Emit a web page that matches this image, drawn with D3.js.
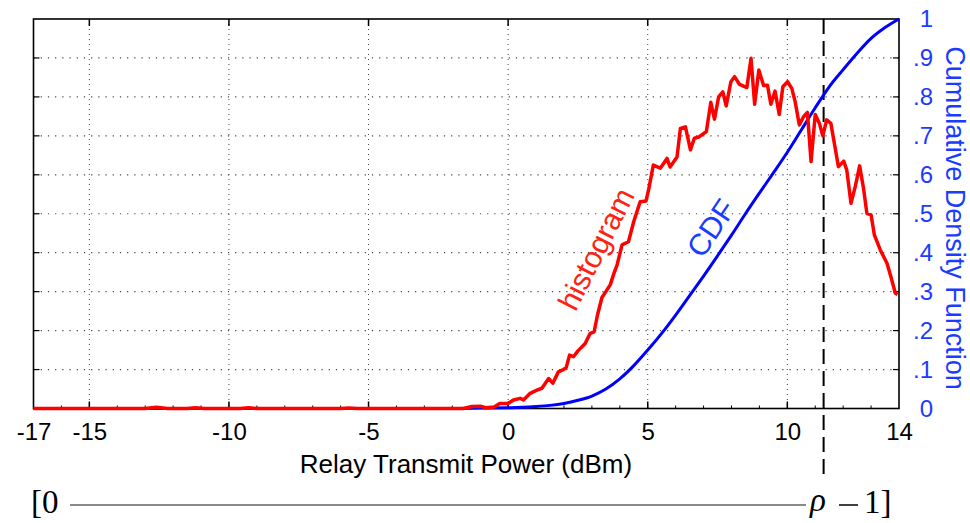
<!DOCTYPE html>
<html><head><meta charset="utf-8">
<script src="https://cdn.jsdelivr.net/npm/d3@7"></script>
<style>
html,body{margin:0;padding:0;background:#fff;}
svg{display:block;}
</style>
</head><body>
<svg id="chart" width="970" height="523"></svg>
<script>
// ---- data ----
const histX = [-17,-13.0,-12.6,-12.2,-11.5,-11.2,-10.9,-9.6,-9.3,-9.0,-6,-5.7,-5.4,-3,-1.6,-1.3,-1.0,-0.8,-0.5,-0.3,0.0,0.19,0.43,0.55,0.79,1.03,1.21,1.45,1.6,1.8,1.98,2.08,2.2,2.34,2.5,2.76,2.94,3.08,3.2,3.36,3.5,3.66,3.78,3.9,4.08,4.31,4.5,4.73,4.94,5.03,5.2,5.45,5.69,5.8,6.05,6.17,6.35,6.53,6.67,6.83,7.1,7.26,7.39,7.54,7.69,7.81,7.98,8.11,8.29,8.55,8.70,8.83,8.98,9.15,9.29,9.41,9.56,9.71,9.84,10.01,10.16,10.28,10.43,10.58,10.72,10.85,11.0,11.15,11.27,11.41,11.56,11.83,12.02,12.13,12.28,12.43,12.59,12.73,12.85,13.0,13.12,13.33,13.57,13.71,13.87,13.95];
const histY = [0,0,0.003,0,0,0.002,0,0,0.002,0,0,0.001,0,0,0,0.005,0.006,0.002,0.004,0.013,0.013,0.022,0.026,0.022,0.039,0.047,0.052,0.077,0.065,0.094,0.1,0.105,0.137,0.133,0.148,0.167,0.193,0.197,0.24,0.285,0.3,0.318,0.345,0.368,0.42,0.428,0.48,0.531,0.533,0.561,0.625,0.617,0.642,0.62,0.646,0.719,0.723,0.664,0.694,0.697,0.711,0.786,0.743,0.80,0.813,0.777,0.839,0.852,0.832,0.824,0.899,0.781,0.869,0.829,0.83,0.781,0.815,0.755,0.826,0.839,0.822,0.788,0.728,0.749,0.760,0.634,0.755,0.732,0.700,0.741,0.732,0.621,0.635,0.612,0.527,0.569,0.623,0.565,0.501,0.497,0.445,0.407,0.373,0.338,0.296,0.293];
const cdfX = [-17,-3,-2,-1,0,0.5,1,1.5,2,2.5,3,3.5,4,4.5,5,5.5,6,6.5,7,7.5,8,8.5,9,9.5,10,10.5,11,11.5,12,12.5,13,13.5,14];
const cdfY = [0,0,0,0.001,0.002,0.003,0.005,0.008,0.013,0.021,0.032,0.05,0.076,0.11,0.15,0.193,0.24,0.29,0.34,0.392,0.445,0.5,0.553,0.605,0.658,0.715,0.772,0.826,0.87,0.912,0.95,0.978,1.0];
const xTickVals = [-17,-15,-10,-5,0,5,10,14];
const xTickLabels = ["-17","-15","-10","-5","0","5","10","14"];
const xGridVals = [-15,-10,-5,0,5,10];
const yTickVals = [0,0.1,0.2,0.3,0.4,0.5,0.6,0.7,0.8,0.9,1];
const yTickLabels = ["0",".1",".2",".3",".4",".5",".6",".7",".8",".9","1"];
const rhoValue = 11.3;   // position of dashed marker (dBm)
const xLabel = "Relay Transmit Power (dBm)";
const yLabel = "Cumulative Density Function";

// ---- layout ----
const svg = d3.select("#chart");
const L = 33.5, R = 899, T = 19, B = 408.5;
const x = d3.scaleLinear().domain([-17,14]).range([L,R]);
const y = d3.scaleLinear().domain([0,1]).range([B,T]);
const sans = "'Liberation Sans', Arial, Helvetica, sans-serif";
const blueText = "#1a3cff";

// grid
const g = svg.append("g");
g.selectAll("line.vg").data(xGridVals).join("line")
  .attr("x1", d=>x(d)).attr("x2", d=>x(d)).attr("y1", T).attr("y2", B)
  .attr("stroke", "#444").attr("stroke-width", 1).attr("stroke-dasharray", "1,4");
g.selectAll("line.hg").data(yTickVals.slice(1,-1)).join("line")
  .attr("x1", L).attr("x2", R).attr("y1", d=>y(d)).attr("y2", d=>y(d))
  .attr("stroke", "#444").attr("stroke-width", 1.2).attr("stroke-dasharray", "1.2,6");

// bottom axis with minor ticks
const xAxis = d3.axisBottom(x).tickValues(xTickVals).tickFormat((d,i)=>xTickLabels[i]).tickSize(0).tickPadding(14);
const ax = svg.append("g").attr("transform", `translate(0,${B})`).call(xAxis);
ax.select(".domain").remove();
ax.selectAll("text").attr("font-family", sans).attr("font-size", 24).attr("fill", "#000");
const minor = d3.range(-16, 14, 1);
svg.append("g").selectAll("line").data(minor).join("line")
  .attr("x1", d=>x(d)).attr("x2", d=>x(d)).attr("y1", B).attr("y2", B-3)
  .attr("stroke", "#000").attr("stroke-width", 1);
svg.append("g").selectAll("line").data(xGridVals).join("line")
  .attr("x1", d=>x(d)).attr("x2", d=>x(d)).attr("y1", B).attr("y2", B-7)
  .attr("stroke", "#000").attr("stroke-width", 1.5);
svg.append("g").selectAll("line").data(xGridVals).join("line")
  .attr("x1", d=>x(d)).attr("x2", d=>x(d)).attr("y1", T).attr("y2", T+7)
  .attr("stroke", "#000").attr("stroke-width", 1.5);

// right axis
const yAxis = d3.axisRight(y).tickValues(yTickVals).tickFormat((d,i)=>yTickLabels[i]).tickSize(0).tickPadding(0);
const ay = svg.append("g").attr("transform", `translate(${R},0)`).call(yAxis);
ay.select(".domain").remove();
ay.selectAll("text").attr("font-family", sans).attr("font-size", 24).attr("fill", blueText)
  .attr("text-anchor", "end").attr("x", 34);
svg.append("g").selectAll("line").data(yTickVals.slice(1,-1)).join("line")
  .attr("x1", R).attr("x2", R-6).attr("y1", d=>y(d)).attr("y2", d=>y(d))
  .attr("stroke", "#000").attr("stroke-width", 1.2);
svg.append("g").selectAll("line").data(yTickVals.slice(1,-1)).join("line")
  .attr("x1", L).attr("x2", L+6).attr("y1", d=>y(d)).attr("y2", d=>y(d))
  .attr("stroke", "#000").attr("stroke-width", 1.2);

// frame
svg.append("rect").attr("x", L).attr("y", T).attr("width", R-L).attr("height", B-T)
  .attr("fill", "none").attr("stroke", "#000").attr("stroke-width", 1.6);

// dashed marker
svg.append("line").attr("x1", x(rhoValue)).attr("x2", x(rhoValue)).attr("y1", T).attr("y2", 476)
  .attr("stroke", "#000").attr("stroke-width", 2).attr("stroke-dasharray", "15,7");

// curves
const hist = histX.map((v,i)=>[v, histY[i]]);
const cdf = cdfX.map((v,i)=>[v, cdfY[i]]);
svg.append("path").datum(cdf)
  .attr("d", d3.line().x(d=>x(d[0])).y(d=>y(d[1])).curve(d3.curveMonotoneX))
  .attr("fill", "none").attr("stroke", "#0000ff").attr("stroke-width", 3);
svg.append("path").datum(hist)
  .attr("d", d3.line().x(d=>x(d[0])).y(d=>y(d[1])))
  .attr("fill", "none").attr("stroke", "#ff0000").attr("stroke-width", 3.5).attr("stroke-linejoin", "round");

// in-plot labels
svg.append("text").attr("transform", "translate(596,249) rotate(-63)")
  .attr("text-anchor", "middle").attr("dy", "0.35em")
  .attr("font-family", sans).attr("font-size", 30).attr("fill", "#ff2211").text("histogram");
svg.append("text").attr("transform", "translate(711,228) rotate(-56)")
  .attr("text-anchor", "middle").attr("dy", "0.35em")
  .attr("font-family", sans).attr("font-size", 30).attr("fill", blueText).text("CDF");

// axis titles
svg.append("text").attr("x", 466).attr("y", 473).attr("text-anchor", "middle")
  .attr("font-family", sans).attr("font-size", 26).attr("fill", "#000").text(xLabel);
svg.append("text").attr("transform", "translate(946,218) rotate(90)").attr("text-anchor", "middle")
  .attr("font-family", sans).attr("font-size", 27).attr("fill", blueText).text(yLabel);

// bottom bracket annotation
const serif = "'Liberation Serif', 'Times New Roman', serif";
const bFont = 33, bY = 513;
svg.append("text").attr("x", 31).attr("y", bY).attr("font-family", serif).attr("font-size", bFont)
  .attr("fill", "#000").text("[0");
svg.append("line").attr("x1", 70).attr("x2", 806).attr("y1", 505).attr("y2", 505)
  .attr("stroke", "#8a8a8a").attr("stroke-width", 2);
svg.append("text").attr("x", 810).attr("y", bY-2).attr("font-family", serif).attr("font-size", bFont)
  .attr("font-style", "italic").attr("fill", "#000").text("ρ");
svg.append("line").attr("x1", 839).attr("x2", 858).attr("y1", 505).attr("y2", 505)
  .attr("stroke", "#000").attr("stroke-width", 1.5);
svg.append("text").attr("x", 864).attr("y", bY).attr("font-family", serif).attr("font-size", bFont)
  .attr("fill", "#000").text("1]");
</script>
</body></html>
